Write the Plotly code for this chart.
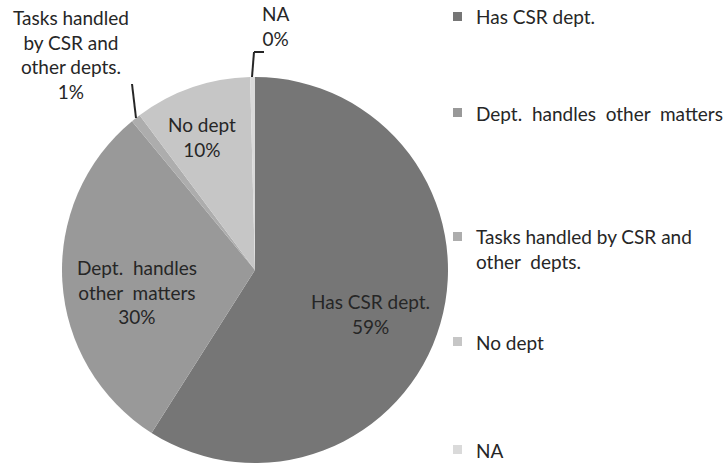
import plotly.graph_objects as go

labels = ["Has CSR dept.", "Dept. handles other matters", "Tasks handled by CSR and other depts.", "No dept", "NA"]
values = [59, 30, 0.8, 9.8, 0.4]
colors = ["#767676", "#999999", "#adadad", "#c6c6c6", "#dadada"]

W, H = 724, 466
FONT = "Lato, Carlito, Calibri, sans-serif"
TXT = "#262626"
FS = 19

total = sum(values)
pcts = [f"{round(v / total * 100):.0f}%" for v in values]

fig = go.Figure(go.Pie(
    labels=labels, values=values, sort=False, direction="clockwise", rotation=0,
    marker=dict(colors=colors, line=dict(width=0)),
    textinfo="none", hoverinfo="label+percent", showlegend=False,
    domain=dict(x=[62 / W, 448 / W], y=[3 / H, 389 / H]),
))

def px(x, y):
    return x / W, 1 - y / H

# slice labels (text from data)
slice_text = [
    (labels[0] + "<br>" + pcts[0], 370, 314),
    ("Dept.  handles<br>other  matters<br>" + pcts[1], 137, 292),
    ("Tasks handled<br>by CSR and<br>other depts.<br>" + pcts[2], 71, 54),
    (labels[3] + "<br>" + pcts[3], 202, 137),
    (labels[4] + "<br>" + pcts[4], 276, 26),
]
for t, x, y in slice_text:
    xx, yy = px(x, y)
    fig.add_annotation(x=xx, y=yy, xref="paper", yref="paper", text=t, showarrow=False,
                       xanchor="center", yanchor="middle",
                       font=dict(family=FONT, size=FS, color=TXT), align="center")

# leader lines
def seg(x0, y0, x1, y1):
    a0, b0 = px(x0, y0); a1, b1 = px(x1, y1)
    fig.add_shape(type="line", xref="paper", yref="paper", x0=a0, y0=b0, x1=a1, y1=b1,
                  line=dict(color="#262626", width=2))

seg(136, 118, 132, 84)
seg(252, 77, 254, 52)
seg(254, 52, 264, 52)

# legend
leg = [(labels[0], 17), ("Dept.  handles  other  matters", 113),
       ("Tasks handled by CSR and<br>other  depts.", 249), (labels[3], 342), (labels[4], 450)]
sq_y = [17, 113, 237, 342, 450]
for (t, y), c, sy in zip(leg, colors, sq_y):
    x0, y0 = px(453, sy - 5); x1, y1 = px(462, sy + 4)
    fig.add_shape(type="rect", xref="paper", yref="paper", x0=x0, y0=y0, x1=x1, y1=y1,
                  fillcolor=c, line=dict(width=0))
    xx, yy = px(474, y)
    fig.add_annotation(x=xx, y=yy, xref="paper", yref="paper", text=t, showarrow=False,
                       xanchor="left", yanchor="middle", align="left",
                       font=dict(family=FONT, size=FS, color=TXT))

fig.update_layout(width=W, height=H, margin=dict(l=0, r=0, t=0, b=0),
                  paper_bgcolor="white", plot_bgcolor="white")
fig.write_html("out.html", config={"displayModeBar": False},
               post_script="document.body.style.margin='0';")
